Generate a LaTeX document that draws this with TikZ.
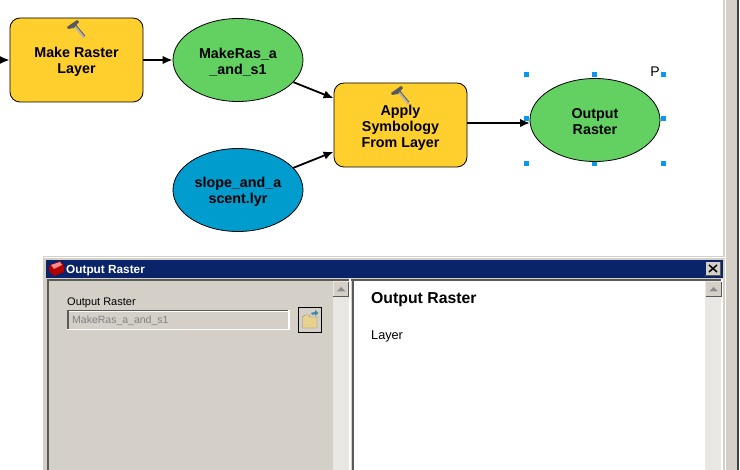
\documentclass[tikz,border=0pt]{standalone}
\usepackage{fontspec}
\setmainfont{Liberation Sans}
\usetikzlibrary{arrows.meta}
\usetikzlibrary{shapes.geometric}
\definecolor{toolfill}{HTML}{FFCF2E}
\definecolor{datafill}{HTML}{62D162}
\definecolor{layerfill}{HTML}{009CCE}
\definecolor{handleblue}{HTML}{0A96F5}
\definecolor{titleblue}{HTML}{0A246A}
\definecolor{chrome}{HTML}{D4D0C8}
\definecolor{chromedark}{HTML}{5A5A58}
\definecolor{stripe}{HTML}{E9E7E3}
\definecolor{foldertan}{HTML}{E6D28C}
\tikzset{
    toolbox/.style={shape=rectangle, draw=black, fill=toolfill, rounded corners=10pt, line width=0.8pt, minimum width=133pt, minimum height=84pt, align=center, font=\fontsize{14.3}{16}\bfseries\selectfont, inner sep=0pt},
    varellipse/.style={shape=ellipse, draw=black, line width=0.8pt, minimum width=130pt, minimum height=83pt, align=center, font=\fontsize{14.3}{16}\bfseries\selectfont, inner sep=0pt},
    handle/.style={shape=rectangle, fill=handleblue, minimum width=5pt, minimum height=5pt, inner sep=0pt},
    wire/.style={draw=black, line width=1.8pt, -{Latex[length=10pt,width=8.5pt]}},
    winlabel/.style={anchor=west, inner sep=0pt},
    scrollbtn/.style={shape=rectangle, fill=chrome, minimum width=15pt, minimum height=14pt, inner sep=0pt},
    hammer/.pic={
        \draw[line width=2.4pt, color=black!30, line cap=round] (-2,-4) -- (8,8);
        \draw[line width=0.7pt, color=black!70] (-1,-5) -- (9,7);
        \fill[black!65] (-9,-2) -- (1,-9) -- (3,-7) -- (-2,-1) -- (-8,0) -- cycle;
    }
}
\begin{document}
\begin{tikzpicture}[x=1pt, y=-1pt]
    \useasboundingbox (0,0) rectangle (740,470);
    \fill[white] (0,0) rectangle (740,470);
    % Right window edge:
    \fill[chrome] (723,0) rectangle (737,470);
    \fill[white] (724.5,0) rectangle (725.5,470);
    \fill[black!75] (737,0) rectangle (739,470);
    % Selection handles:
    \foreach \hx/\hy/\hname in {526/75/a, 594/75/b, 663/75/c, 526/119/d, 663/119/e, 526/164/f, 594/164/g, 663/164/h}
        \node[handle](H\hname) at (\hx, \hy){};
    % Paths, nodes and wires:
    \node[toolbox](makeLayer) at (76.5, 60){\\[-2pt]Make Raster\\Layer};
    \node[varellipse, fill=datafill](makeRas) at (238, 60){\\[-2pt]MakeRas\_a\\\_and\_s1};
    \node[varellipse, fill=layerfill](slope) at (238, 190){\\[-2pt]slope\_and\_a\\scent.lyr};
    \node[toolbox](apply) at (400.5, 125){\\[0pt]Apply\\Symbology\\From Layer};
    \node[varellipse, fill=datafill](output) at (595, 120){\\[-2pt]Output\\Raster};
    \node[inner sep=0pt, font=\fontsize{14}{14}\selectfont](pLabel) at (655, 72){P};
    \pic at (76, 29) {hammer};
    \pic at (400, 95) {hammer};
    \coordinate (inFree) at (0, 60);
    \coordinate (inOutput) at (530, 123);
    \draw[wire] (inFree) -- (makeLayer.west);
    \draw[wire] (makeLayer) -- (makeRas);
    \draw[wire] (makeRas) -- (apply);
    \draw[wire] (slope) -- (apply);
    \draw[wire] (apply.east |- inOutput) -- (inOutput);
    % Dialog window:
    \fill[chrome] (43,256) rectangle (725,470);
    \fill[white] (44,257) rectangle (725,258);
    \fill[titleblue] (46,260) rectangle (723,278);
    \fill[chromedark] (47,279) rectangle (723,281);
    \fill[chromedark] (47,279) rectangle (49,470);
    \fill[stripe] (333,281) rectangle (349,470);
    \fill[white] (349,279) rectangle (351,470);
    \fill[chromedark] (352,279) rectangle (354,470);
    \fill[white] (354,281) rectangle (705,470);
    \fill[stripe] (705,281) rectangle (721,470);
    \fill[white] (721,279) rectangle (723,470);
    % Dialog buttons:
    \node[scrollbtn](scrollLeft) at (341, 289){};
    \node[scrollbtn](scrollRight) at (713.5, 289){};
    \draw[chromedark, line width=1pt] (scrollLeft.south west) -- (scrollLeft.south east) -- (scrollLeft.north east);
    \draw[chromedark, line width=1pt] (scrollRight.south west) -- (scrollRight.south east) -- (scrollRight.north east);
    \fill[black!45] (336.5,291.5) -- (341,287) -- (345.5,291.5) -- cycle;
    \fill[black!45] (709,291.5) -- (713.5,287) -- (718,291.5) -- cycle;
    \node[shape=rectangle, fill=chrome, minimum width=15pt, minimum height=13pt, inner sep=0pt](closeBtn) at (713, 268.5){};
    \draw[chromedark, line width=1pt] (closeBtn.south west) -- (closeBtn.south east) -- (closeBtn.north east);
    \draw[line width=1.5pt] (709,265) -- (717,272) (717,265) -- (709,272);
    % Toolbox icon:
    \fill[red!70!black] (49,266) -- (60,261) -- (64,266) -- (64,272) -- (54,276) -- (49,271) -- cycle;
    \fill[red!45!white] (51,265) -- (60,262) -- (62,265) -- (54,269) -- cycle;
    % Dialog texts:
    \node[winlabel, text=white, font=\fontsize{11.8}{12}\bfseries\selectfont](titleText) at (66, 270.5){Output Raster};
    \node[winlabel, font=\fontsize{11}{12}\selectfont](fieldLabel) at (67, 302.5){Output Raster};
    \fill[white] (67,310) rectangle (289.5,330);
    \fill[chromedark] (67,310) rectangle (288,311.5);
    \fill[chromedark] (67,310) rectangle (68.5,329);
    \node[shape=rectangle, fill=chrome, minimum width=219.5pt, minimum height=17pt, inner sep=0pt, anchor=north west](fieldBox) at (68.5, 311.5){};
    \node[winlabel, text=black!50, font=\fontsize{10.5}{12}\selectfont](fieldText) at (72, 321){MakeRas\_a\_and\_s1};
    \node[shape=rectangle, fill=chrome, draw=black, line width=1pt, minimum width=23pt, minimum height=25pt, inner sep=0pt](folderBtn) at (310, 320){};
    \draw[fill=foldertan, draw=black!50] (302.5,328) -- (302.5,317) -- (305,315) -- (309,315) -- (310,317) -- (317,317) -- (317,328) -- cycle;
    \fill[cyan!60!black] (311,313) -- (315,312) -- (315,310) -- (318.5,313) -- (315,316) -- (315,314) -- (312,315) -- cycle;
    \node[winlabel, font=\fontsize{15.8}{18}\bfseries\selectfont](helpTitle) at (371, 300){Output Raster};
    \node[winlabel, font=\fontsize{12.7}{14}\selectfont](helpLayer) at (371, 336.5){Layer};
\end{tikzpicture}
\end{document}
